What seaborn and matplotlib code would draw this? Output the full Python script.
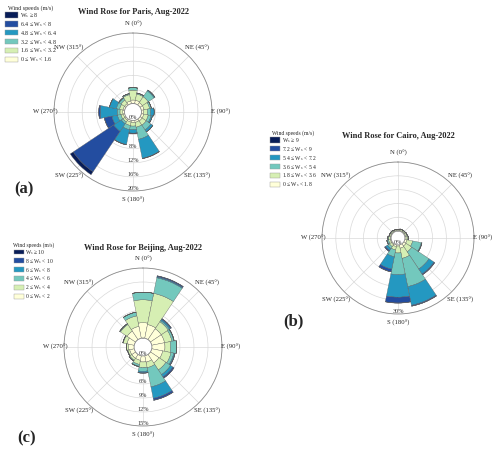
import numpy as np
import matplotlib
matplotlib.use('Agg')
import matplotlib.pyplot as plt
from matplotlib.patches import Patch
import seaborn as sns

# --- Datos (frecuencia % por dirección, 16 sectores desde N en sentido horario) ---
directions = ['N', 'NNE', 'NE', 'ENE', 'E', 'ESE', 'SE', 'SSE',
              'S', 'SSW', 'SW', 'WSW', 'W', 'WNW', 'NW', 'NNW']
dir_angles = np.arange(16) * 22.5
compass_angles = [0, 45, 90, 135, 180, 225, 270, 315]
compass_labels = ['N (0°)', 'NE (45°)', 'E (90°)', 'SE (135°)',
                  'S (180°)', 'SW (225°)', 'W (270°)', 'NW (315°)']

paris_bins = [0, 1.6, 3.2, 4.8, 6.4, 8]
paris_freq = [
    [1.0, 1.0, 0.8, 0.8, 0.6, 0.7, 0.7, 0.6, 0.6, 0.5, 0.4, 0.4, 0.5, 0.5, 0.5, 0.8],
    [2.8, 1.8, 2.0, 1.6, 1.1, 1.3, 1.4, 1.4, 1.0, 1.0, 0.6, 0.7, 0.8, 1.0, 1.2, 1.8],
    [0.7, 0.3, 2.0, 0.5, 0.9, 0.8, 1.6, 3.5, 1.0, 1.2, 0.6, 1.0, 0.8, 0.9, 0.6, 0.3],
    [0.0, 0.0, 0.3, 0.0, 1.0, 0.4, 0.7, 5.5, 1.0, 4.3, 2.6, 1.6, 4.8, 2.0, 0.2, 0.0],
    [0.0, 0.0, 0.0, 0.0, 0.0, 0.0, 0.0, 0.1, 0.2, 0.1, 13.8, 2.2, 0.4, 0.0, 0.0, 0.0],
    [0.0, 0.0, 0.0, 0.0, 0.0, 0.0, 0.0, 0.0, 0.0, 0.0, 1.0, 0.0, 0.0, 0.0, 0.0, 0.0],
]

cairo_bins = [0, 1.8, 3.6, 5.4, 7.2, 9]
cairo_freq = [
    [0.3, 0.4, 0.4, 0.4, 0.5, 1.0, 1.2, 1.5, 0.5, 0.8, 0.5, 0.4, 0.4, 0.3, 0.3, 0.3],
    [0.4, 0.5, 0.5, 0.6, 0.8, 2.5, 3.0, 4.5, 3.0, 1.5, 1.0, 0.8, 0.7, 0.5, 0.5, 0.4],
    [0.1, 0.1, 0.1, 0.2, 0.2, 3.8, 9.0, 12.5, 9.4, 3.0, 1.0, 0.6, 0.3, 0.2, 0.2, 0.1],
    [0.0, 0.0, 0.0, 0.0, 0.0, 0.3, 2.6, 8.3, 9.8, 5.5, 1.0, 0.2, 0.0, 0.0, 0.0, 0.0],
    [0.0, 0.0, 0.0, 0.0, 0.0, 0.0, 0.4, 0.4, 2.5, 1.2, 0.5, 0.0, 0.0, 0.0, 0.0, 0.0],
    [0.0, 0.0, 0.0, 0.0, 0.0, 0.0, 0.0, 0.0, 0.1, 0.0, 0.0, 0.0, 0.0, 0.0, 0.0, 0.0],
]

beijing_bins = [0, 2, 4, 6, 8, 10]
beijing_freq = [
    [3.3, 3.0, 2.8, 2.8, 2.8, 2.4, 2.2, 1.4, 1.3, 1.0, 1.0, 1.0, 1.2, 1.6, 2.2, 2.6],
    [4.9, 6.8, 1.8, 1.6, 1.2, 1.8, 1.8, 1.2, 1.2, 0.9, 0.5, 0.4, 0.4, 0.8, 1.7, 2.3],
    [1.6, 3.4, 0.3, 0.4, 1.3, 0.6, 1.2, 4.2, 0.8, 0.4, 0.2, 0.1, 0.1, 0.1, 0.2, 0.8],
    [0.0, 0.2, 0.3, 0.1, 0.0, 0.2, 0.6, 2.5, 0.3, 0.1, 0.0, 0.0, 0.0, 0.0, 0.0, 0.0],
    [0.0, 0.2, 0.2, 0.0, 0.0, 0.1, 0.3, 0.4, 0.1, 0.0, 0.0, 0.0, 0.0, 0.0, 0.0, 0.0],
    [0.0, 0.05, 0.0, 0.0, 0.0, 0.0, 0.0, 0.05, 0.0, 0.0, 0.0, 0.0, 0.0, 0.0, 0.0, 0.0],
]

# --- Estilo ---
sns.set_style("white")
plt.rcParams['font.family'] = ['Liberation Serif', 'DejaVu Serif']
plt.rcParams['mathtext.fontset'] = 'stix'
cmap = sns.color_palette("YlGnBu", as_cmap=True)
colores = [cmap(v) for v in np.linspace(0, 1, 6)]

W, H = 500, 450
fig = plt.figure(figsize=(W / 100, H / 100), dpi=100)


def speed_labels(bins):
    fmt = lambda v: f"{v:g}"
    labs = [f"{fmt(bins[i])} ≤ W$_{{\\rm s}}$ < {fmt(bins[i + 1])}" for i in range(len(bins) - 1)]
    labs.append(f"W$_{{\\rm s}}$ ≥ {fmt(bins[-1])}")
    return labs


def wind_rose(cx, cy, r, freq, bins, rmax, step, hole, title, title_y,
              leg_xy, leg_fs, leg_hl, leg_sp, panel, panel_xy):
    ax = fig.add_axes([(cx - r) / W, (H - cy - r) / H, 2 * r / W, 2 * r / H],
                      projection='polar')
    ax.set_theta_zero_location('N')
    ax.set_theta_direction(-1)
    theta = np.deg2rad(dir_angles)
    width = np.deg2rad(22.5)
    bottom = np.zeros(len(dir_angles))
    for i, vals in enumerate(freq):
        vals = np.array(vals)
        ax.bar(theta, vals, width=width, bottom=bottom, color=colores[i],
               edgecolor='0.35', linewidth=0.25, zorder=2)
        bottom += vals
    ax.set_axisbelow(True)
    ax.set_ylim(0, rmax)
    ax.set_rorigin(-hole)
    ticks = np.arange(0, rmax + 0.1, step)
    ax.set_yticks(ticks)
    ax.set_yticklabels([f"{t:g}%" for t in ticks], fontsize=4.5, color='0.2')
    ax.set_rlabel_position(180)
    for lab in ax.get_yticklabels():
        lab.set_horizontalalignment('center')
    ax.set_thetagrids(compass_angles, [''] * len(compass_angles))
    ax.grid(color='0.85', linewidth=0.5)
    for sp in ax.spines.values():
        sp.set_color('0.55')
        sp.set_linewidth(0.6)

    # etiquetas de dirección justo fuera del círculo
    def r_data(px):
        return -hole + px / r * (rmax + hole)
    for ang, lab in zip(compass_angles, compass_labels):
        off = 9 if ang % 90 == 0 else 12
        ax.text(np.deg2rad(ang), r_data(r + off), lab, ha='center',
                va='center', fontsize=4.8, clip_on=False)

    fig.text(cx / W, 1 - title_y / H, title, ha='center', va='center',
             fontsize=6, fontweight='bold')
    labs = speed_labels(bins)
    handles = [Patch(facecolor=colores[i], edgecolor='0.6', linewidth=0.3)
               for i in range(6)]
    fig.legend(handles[::-1], labs[::-1], loc='upper left',
               bbox_to_anchor=(leg_xy[0] / W, 1 - leg_xy[1] / H),
               frameon=False, fontsize=leg_fs, title='Wind speeds (m/s)',
               title_fontsize=leg_fs, handlelength=leg_hl, handleheight=1.0,
               handletextpad=0.2, labelspacing=leg_sp, borderpad=0.2,
               borderaxespad=0)
    fig.text(panel_xy[0] / W, 1 - panel_xy[1] / H, panel, ha='center',
             va='center', fontsize=12, fontweight='bold')
    return ax


wind_rose(133, 112, 79, paris_freq, paris_bins, 20, 4, 2.4,
          'Wind Rose for Paris, Aug-2022', 12, (4, 4), 4.3, 2.2, 0.0,
          '(a)', (24, 189))
wind_rose(398, 238, 76, cairo_freq, cairo_bins, 30, 6, 3.0,
          'Wind Rose for Cairo, Aug-2022', 136, (269, 129), 4.1, 1.8, 0.0,
          '(b)', (293, 321))
wind_rose(143, 347, 79, beijing_freq, beijing_bins, 15, 3, 1.9,
          'Wind Rose for Beijing, Aug-2022', 248, (12, 241), 4.0, 1.8, 0.0,
          '(c)', (27, 438))

fig.savefig('out.png', dpi=100)
